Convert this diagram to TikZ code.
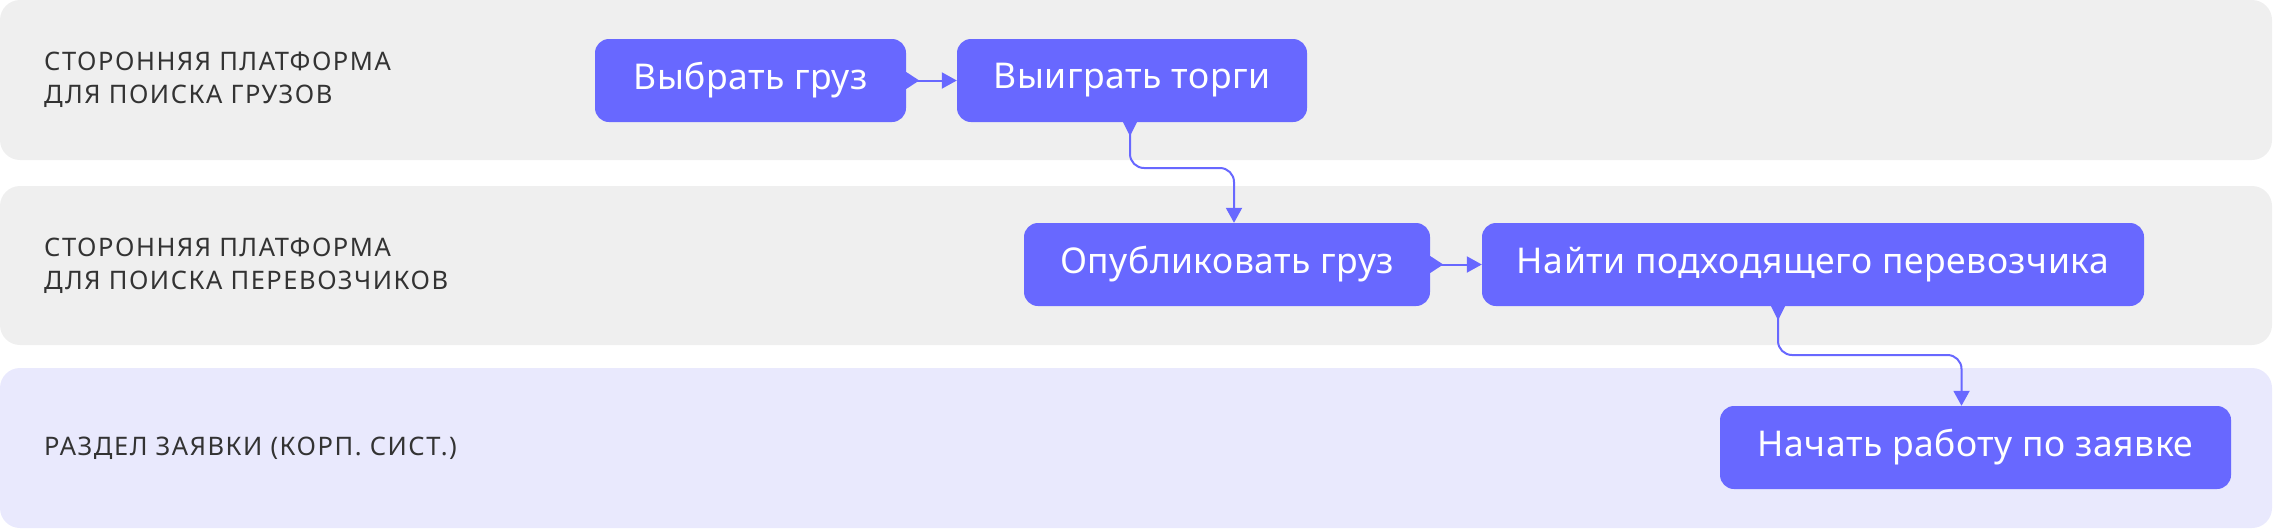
\documentclass[tikz,border=0pt]{standalone}
\usepackage{fontspec}
\setmainfont{Noto Sans}
\newfontfamily\labfont[LetterSpace=6]{Noto Sans}
\newfontfamily\boxfont[LetterSpace=1.5]{Noto Sans}
\usetikzlibrary{arrows.meta,calc}
\definecolor{lanegray}{HTML}{EFEFEF}
\definecolor{lanelav}{HTML}{E9E9FD}
\definecolor{boxc}{HTML}{6868FF}
\definecolor{labc}{HTML}{333333}
\tikzset{
  lane/.style={fill=#1, rounded corners=20pt},
  stepbox/.style={fill=boxc, rounded corners=14pt, text=white, minimum height=83pt,
    inner sep=0pt, font=\boxfont\fontsize{35.5}{42}\selectfont},
  lanelabel/.style={anchor=west, align=left, text=labc, inner sep=0pt,
    font=\labfont\fontsize{25.5}{33}\selectfont},
  conn/.style={draw=boxc, line width=2pt, -{Triangle[length=15pt,width=16pt]}, rounded corners=14pt},
  wedge/.style={fill=boxc},
}
\begin{document}
\begin{tikzpicture}[x=1pt,y=-1pt]
\useasboundingbox (0,0) rectangle (2274,528);
% lanes
\fill[lane=lanegray] (0,0) rectangle (2272,160);
\fill[lane=lanegray] (0,186) rectangle (2272,345);
\fill[lane=lanelav] (0,368) rectangle (2272,528);
% lane labels
\node[lanelabel] (l1) at (44,80) {СТОРОННЯЯ ПЛАТФОРМА\\ДЛЯ ПОИСКА ГРУЗОВ};
\node[lanelabel] (l2) at (44,265.5) {СТОРОННЯЯ ПЛАТФОРМА\\ДЛЯ ПОИСКА ПЕРЕВОЗЧИКОВ};
\node[lanelabel] (l3) at (44,448) {РАЗДЕЛ ЗАЯВКИ (КОРП. СИСТ.)};
% boxes
\node[stepbox, minimum width=311pt] (b1) at (750.5,80.5) {Выбрать груз};
\node[stepbox, minimum width=350pt] (b2) at (1132,80.5) {Выиграть торги};
\node[stepbox, minimum width=406pt] (b3) at (1227,264.5) {Опубликовать груз};
\node[stepbox, minimum width=662pt] (b4) at (1813,264.5) {Найти подходящего перевозчика};
\node[stepbox, minimum width=511pt] (b5) at (1975.5,447.5) {Начать работу по заявке};
% coordinates for connector ends
\coordinate (s2) at ([xshift=-2pt]b2.south);
\coordinate (t3) at ([xshift=7pt]b3.north);
\coordinate (s4) at ([xshift=-35pt]b4.south);
\coordinate (t5) at ([xshift=-14pt]b5.north);
% wedges (start markers)
\fill[wedge] (b1.east) ++(0,8.5) -- ++(13,-8.5) -- ++(-13,-8.5) -- cycle;
\fill[wedge] (b3.east) ++(0,8.5) -- ++(13,-8.5) -- ++(-13,-8.5) -- cycle;
\fill[wedge] (s2) ++(-7,0) -- ++(7,14) -- ++(7,-14) -- cycle;
\fill[wedge] (s4) ++(-7,0) -- ++(7,14) -- ++(7,-14) -- cycle;
% connectors
\draw[conn] (b1.east) -- (b2.west);
\draw[conn] (b3.east) -- (b4.west);
\draw[conn] (s2) -- (s2 |- 0,168) -- (t3 |- 0,168) -- (t3);
\draw[conn] (s4) -- (s4 |- 0,355) -- (t5 |- 0,355) -- (t5);
\end{tikzpicture}
\end{document}
